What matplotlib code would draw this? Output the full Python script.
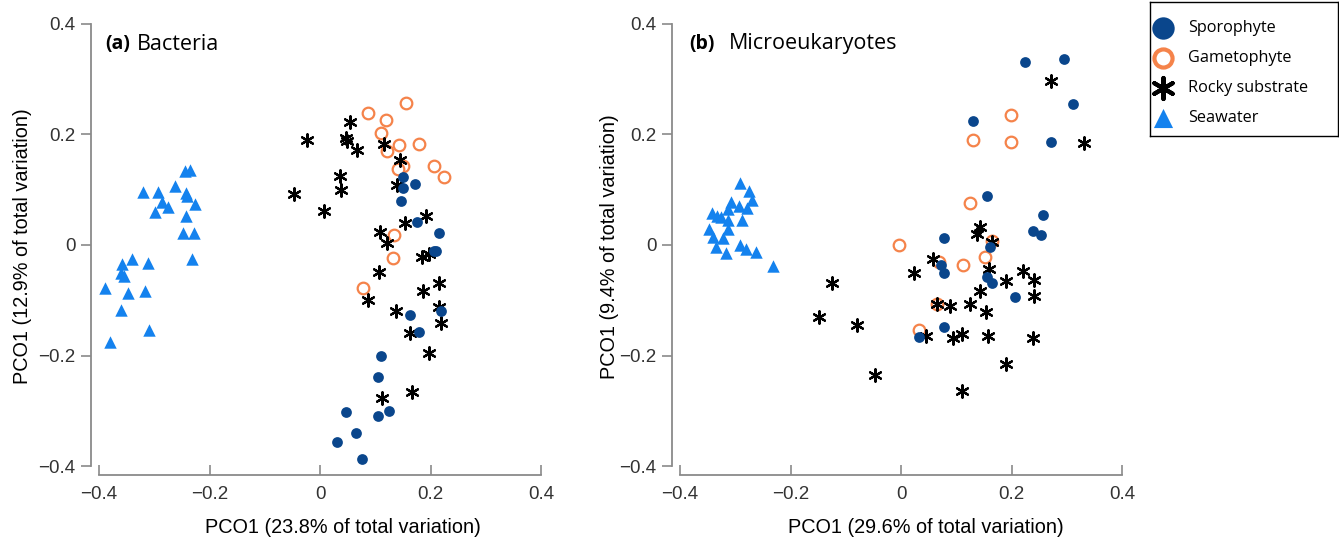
import matplotlib
matplotlib.use("Agg")
from matplotlib import pyplot as plt
import numpy as np

# ---- data ----
# panel (a) Bacteria
a_spor_x = [0.150, 0.150, 0.172, 0.146, 0.175, 0.214, 0.205, 0.209, 0.163, 0.179,
            0.218, 0.110, 0.104, 0.047, 0.104, 0.125, 0.064, 0.030, 0.076]
a_spor_y = [0.122, 0.103, 0.110, 0.080, 0.041, 0.022, -0.011, -0.011, -0.127, -0.157,
            -0.119, -0.201, -0.238, -0.302, -0.309, -0.300, -0.340, -0.357, -0.387]
a_game_x = [0.155, 0.086, 0.119, 0.110, 0.120, 0.143, 0.179, 0.149, 0.141, 0.206,
            0.223, 0.134, 0.131, 0.077]
a_game_y = [0.256, 0.238, 0.226, 0.202, 0.169, 0.180, 0.182, 0.143, 0.137, 0.142,
            0.123, 0.018, -0.023, -0.078]
a_rock_x = [0.053, -0.024, 0.047, 0.049, 0.066, 0.035, 0.037, -0.047, 0.006, 0.116,
            0.144, 0.139, 0.191, 0.153, 0.108, 0.120, 0.184, 0.197, 0.107, 0.215,
            0.185, 0.086, 0.137, 0.214, 0.218, 0.163, 0.197, 0.166, 0.111]
a_rock_y = [0.223, 0.190, 0.193, 0.188, 0.172, 0.125, 0.100, 0.092, 0.062, 0.183,
            0.154, 0.109, 0.052, 0.039, 0.024, 0.003, -0.021, -0.016, -0.049, -0.069,
            -0.083, -0.100, -0.119, -0.112, -0.142, -0.159, -0.195, -0.266, -0.277]
a_sea_x = [-0.245, -0.235, -0.321, -0.293, -0.263, -0.243, -0.241, -0.286, -0.275, -0.299,
           -0.227, -0.242, -0.248, -0.228, -0.232, -0.341, -0.358, -0.312, -0.361, -0.355,
           -0.389, -0.348, -0.316, -0.361, -0.309, -0.381]
a_sea_y = [0.133, 0.136, 0.096, 0.096, 0.107, 0.094, 0.089, 0.077, 0.068, 0.060,
           0.074, 0.052, 0.021, 0.021, -0.025, -0.026, -0.034, -0.032, -0.051, -0.057,
           -0.077, -0.086, -0.083, -0.118, -0.154, -0.176]

# panel (b) Microeukaryotes
b_spor_x = [0.223, 0.294, 0.311, 0.130, 0.271, 0.155, 0.256, 0.239, 0.252, 0.077,
            0.160, 0.072, 0.077, 0.155, 0.165, 0.205, 0.078, 0.033]
b_spor_y = [0.331, 0.336, 0.255, 0.224, 0.187, 0.089, 0.054, 0.026, 0.018, 0.012,
            -0.003, -0.036, -0.051, -0.058, -0.068, -0.095, -0.149, -0.167]
b_game_x = [0.199, 0.130, 0.199, 0.124, -0.004, 0.164, 0.152, 0.111, 0.068, 0.065, 0.033]
b_game_y = [0.235, 0.189, 0.187, 0.076, 0.000, 0.008, -0.021, -0.036, -0.030, -0.106, -0.153]
b_rock_x = [0.270, 0.330, 0.142, 0.137, 0.164, 0.058, 0.024, -0.125, 0.158, 0.220,
            0.190, 0.241, 0.241, 0.143, 0.065, 0.089, 0.124, 0.154, -0.148, -0.080,
            0.045, 0.094, 0.110, 0.157, 0.238, 0.190, -0.047, 0.110]
b_rock_y = [0.296, 0.184, 0.032, 0.019, 0.005, -0.026, -0.050, -0.068, -0.044, -0.048,
            -0.066, -0.063, -0.092, -0.083, -0.106, -0.110, -0.107, -0.122, -0.130, -0.145,
            -0.165, -0.169, -0.161, -0.165, -0.168, -0.215, -0.235, -0.264]
b_sea_x = [-0.291, -0.276, -0.270, -0.308, -0.293, -0.278, -0.313, -0.343, -0.334, -0.325,
           -0.313, -0.288, -0.347, -0.314, -0.341, -0.323, -0.291, -0.281, -0.335, -0.317,
           -0.262, -0.231]
b_sea_y = [0.112, 0.098, 0.081, 0.077, 0.071, 0.066, 0.065, 0.058, 0.052, 0.050,
           0.045, 0.045, 0.029, 0.029, 0.015, 0.012, 0.000, -0.008, -0.003, -0.015,
           -0.012, -0.038]

ticks = [-0.4, -0.2, 0, 0.2, 0.4]
tick_labels = ["\u22120.4", "\u22120.2", "0", "0.2", "0.4"]
legend_labels = ["Sporophyte", "Gametophyte", "Rocky substrate", "Seawater"]

navy = "#0a468c"
orange = "#f5834a"
blue = "#1482ee"
asterisk = (6, 2, 0)

W, H = 1339, 541
fig = plt.figure(figsize=(W / 100, H / 100), dpi=100)
AX_W = 0.8245 * 553  # axes width in pixels


def make_axes(left_px):
    # axis lines drawn from -0.4 to 0.4, offset a little like the original
    xl, xr = -0.4145, 0.41
    yb, yt = -0.416, 0.41
    scale = 553
    bottom_px = 475
    ax = fig.add_axes([left_px / W, (H - bottom_px) / H,
                       (xr - xl) * scale / W, (yt - yb) * scale / H])
    ax.set_xlim(xl, xr)
    ax.set_ylim(yb, yt)
    for s in ["top", "right"]:
        ax.spines[s].set_visible(False)
    for s in ["left", "bottom"]:
        ax.spines[s].set_color("#8a8a8a")
        ax.spines[s].set_linewidth(1.3)
        ax.spines[s].set_bounds(-0.4, 0.4)
    ax.set_xticks(ticks)
    ax.set_yticks(ticks)
    ax.set_xticklabels(tick_labels, family="Liberation Sans", fontsize=13.5, color="#333333")
    ax.set_yticklabels(tick_labels, family="Liberation Sans", fontsize=13.5, color="#333333")
    ax.tick_params(axis="x", direction="in", length=7, width=1.2, color="#8a8a8a", pad=8)
    ax.tick_params(axis="y", direction="out", length=7, width=1.2, color="#8a8a8a", pad=4)
    ax.patch.set_alpha(0)
    return ax


def draw(ax, sx, sy, gx, gy, rx, ry, wx, wy):
    ax.scatter(wx, wy, marker="^", s=80, color=blue, linewidths=0, zorder=3)
    ax.scatter(rx, ry, marker=asterisk, s=80, color="black", linewidths=1.6, zorder=4)
    ax.scatter(gx, gy, marker="o", s=70, facecolors="white", edgecolors=orange,
               linewidths=1.6, zorder=3)
    ax.scatter(sx, sy, marker="o", s=60, color=navy, linewidths=0, zorder=5)


ax1 = make_axes(91)
draw(ax1, a_spor_x, a_spor_y, a_game_x, a_game_y, a_rock_x, a_rock_y, a_sea_x, a_sea_y)
ax1.set_xlabel("PCO1 (23.8% of total variation)", family="Liberation Sans", fontsize=14.3)
ax1.set_ylabel("PCO1 (12.9% of total variation)", family="Liberation Sans", fontsize=14.3)
ax1.xaxis.set_label_coords((343 - 91) / AX_W, -(518 - 475) / AX_W)
ax1.yaxis.set_label_coords((32 - 91) / AX_W, 0.5)

ax2 = make_axes(672)
draw(ax2, b_spor_x, b_spor_y, b_game_x, b_game_y, b_rock_x, b_rock_y, b_sea_x, b_sea_y)
ax2.set_xlabel("PCO1 (29.6% of total variation)", family="Liberation Sans", fontsize=14.3)
ax2.set_ylabel("PCO1 (9.4% of total variation)", family="Liberation Sans", fontsize=14.3)
ax2.xaxis.set_label_coords((926 - 672) / AX_W, -(518 - 475) / AX_W)
ax2.yaxis.set_label_coords((619 - 672) / AX_W, 0.5)

# panel titles
fig.text(105 / W, 1 - 44 / H, "(a)", family="Open Sans", fontweight="bold",
         fontsize=14, va="center")
fig.text(137 / W, 1 - 44 / H, "Bacteria", family="Open Sans", fontsize=15.5, va="center")
fig.text(689 / W, 1 - 44 / H, "(b)", family="Open Sans", fontweight="bold",
         fontsize=14, va="center")
fig.text(729 / W, 1 - 44 / H, "Microeukaryotes", family="Open Sans", fontsize=15.5,
         va="center")

# legend box drawn as a small axes in pixel units
lg = fig.add_axes([1150 / W, (H - 136) / H, 188 / W, 134 / H])
lg.set_xlim(0, 188)
lg.set_ylim(134, 0)
lg.set_xticks([])
lg.set_yticks([])
for s in lg.spines.values():
    s.set_color("black")
    s.set_linewidth(1.0)
rows = [26, 56, 86, 116]
lg.scatter([13], [rows[0]], marker="o", s=260, color=navy, linewidths=0)
lg.scatter([13], [rows[1]], marker="o", s=170, facecolors="white", edgecolors=orange,
           linewidths=3)
lg.scatter([13], [rows[2]], marker=asterisk, s=230, color="black", linewidths=3)
lg.scatter([13], [rows[3]], marker="^", s=190, color=blue, linewidths=0)
for r, lab in zip(rows, legend_labels):
    lg.text(38, r, lab, family="Open Sans", fontsize=11.7, va="center")

plt.savefig("out.png", dpi=100)
